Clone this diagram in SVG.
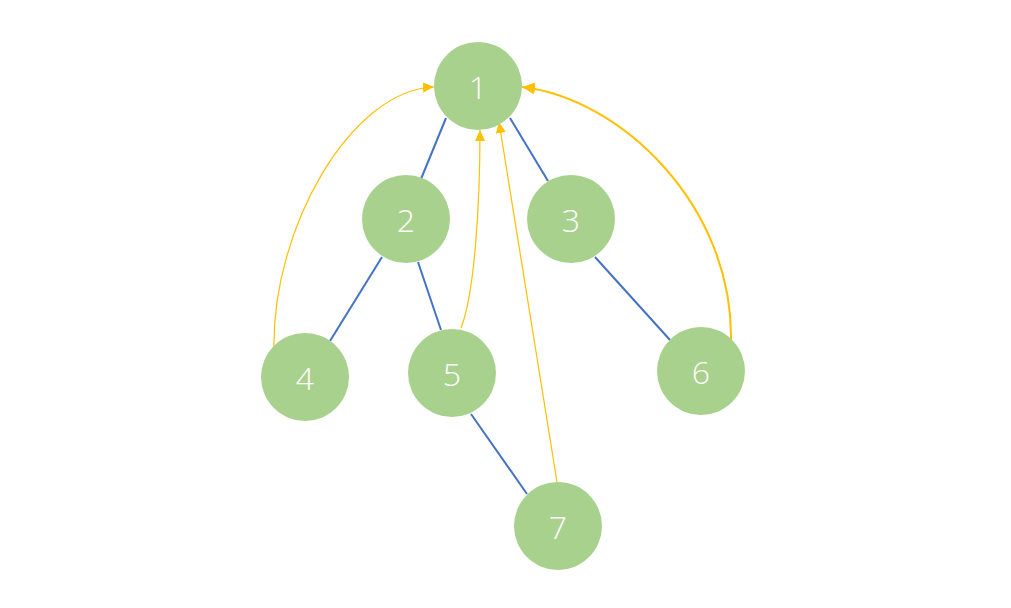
<svg xmlns="http://www.w3.org/2000/svg" width="1011" height="608" viewBox="0 0 1011 608">
<style>
.node circle{fill:#A9D18E}
.node text{fill:#fff;font-family:"Open Sans","Noto Sans","Liberation Sans",sans-serif;font-weight:300;font-size:32px;text-anchor:middle;dominant-baseline:central}
.tree{stroke:#4472C4;stroke-width:2;fill:none}
.ref{stroke:#FFC000;stroke-width:1.2;fill:none;marker-end:url(#ah)}
.ref.thick{stroke-width:2;marker-end:url(#ah2)}
</style>
<defs>
<marker id="ah" markerUnits="userSpaceOnUse" markerWidth="12" markerHeight="12" refX="11" refY="6" orient="auto">
<path d="M0,1 L11,6 L0,11 Z" fill="#FFC000"/>
</marker>
<marker id="ah2" markerUnits="userSpaceOnUse" markerWidth="14" markerHeight="14" refX="13" refY="7" orient="auto">
<path d="M0,1 L13,7 L0,13 Z" fill="#FFC000"/>
</marker>
</defs>
<rect width="1011" height="608" fill="#fff"/>
<g id="connectors">
<line class="tree" x1="446" y1="118" x2="421" y2="179"/>
<line class="tree" x1="510" y1="118" x2="548" y2="181"/>
<line class="tree" x1="382" y1="257" x2="330" y2="341"/>
<line class="tree" x1="418" y1="262" x2="441" y2="330"/>
<line class="tree" x1="595" y1="257" x2="670" y2="340"/>
<line class="tree" x1="471" y1="414" x2="527" y2="494"/>
<path class="ref" d="M274,348 C272,230 350,90 434,87"/>
<path class="ref" d="M461,328 C474,295 480,210 480,130"/>
<path class="ref" d="M557,482 L499,122"/>
<path class="ref thick" d="M731,340 C733,205 620,98 522,87"/>
</g>
<g id="node1" class="node"><circle cx="478" cy="86" r="44"/><text x="478" y="86">1</text></g>
<g id="node2" class="node"><circle cx="406" cy="219" r="44"/><text x="406" y="219">2</text></g>
<g id="node3" class="node"><circle cx="571" cy="219" r="44"/><text x="571" y="219">3</text></g>
<g id="node4" class="node"><circle cx="305" cy="377" r="44"/><text x="305" y="377">4</text></g>
<g id="node5" class="node"><circle cx="452" cy="373" r="44"/><text x="452" y="373">5</text></g>
<g id="node6" class="node"><circle cx="701" cy="371" r="44"/><text x="701" y="371">6</text></g>
<g id="node7" class="node"><circle cx="558" cy="526" r="44"/><text x="558" y="526">7</text></g>
</svg>
